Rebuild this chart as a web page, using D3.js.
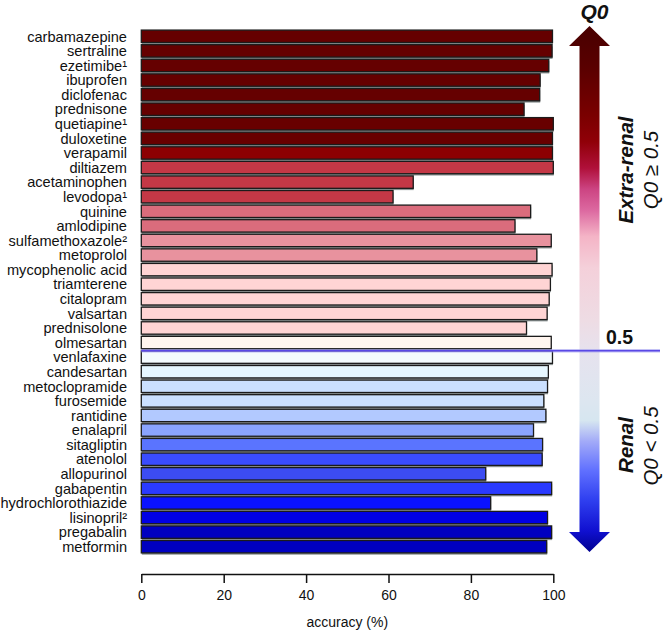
<!DOCTYPE html>
<html>
<head>
<meta charset="utf-8">
<script src="https://cdn.jsdelivr.net/npm/d3@7"></script>
<style>
  html, body { margin: 0; padding: 0; background: #fff; }
  svg { display: block; font-family: "Liberation Sans", Arial, Helvetica, sans-serif; }
</style>
</head>
<body>
<svg id="chart" width="667" height="632"></svg>
<script>
// ---- data ----
const drugs = [
  "carbamazepine", "sertraline", "ezetimibe\u00b9", "ibuprofen", "diclofenac", "prednisone",
  "quetiapine\u00b9", "duloxetine", "verapamil", "diltiazem", "acetaminophen", "levodopa\u00b9",
  "quinine", "amlodipine", "sulfamethoxazole\u00b2", "metoprolol", "mycophenolic acid", "triamterene",
  "citalopram", "valsartan", "prednisolone", "olmesartan", "venlafaxine", "candesartan",
  "metoclopramide", "furosemide", "rantidine", "enalapril", "sitagliptin", "atenolol",
  "allopurinol", "gabapentin", "hydrochlorothiazide", "lisinopril\u00b2", "pregabalin", "metformin"
];
const accuracy = [
  99.8, 99.7, 98.9, 96.8, 96.7, 92.9,
  100, 99.8, 99.8, 100, 66.0, 61.1,
  94.5, 90.7, 99.5, 96.0, 99.7, 99.3,
  99.0, 98.5, 93.5, 99.5, 99.8, 98.8,
  98.6, 97.7, 98.2, 95.2, 97.4, 97.3,
  83.6, 99.6, 84.8, 98.6, 99.6, 98.4
];
// palette for bars (Q0 shade of each drug, top to bottom)
const barColors = [
  "#650000", "#650000", "#650000", "#650000", "#650000", "#650000",
  "#680000", "#680000", "#8c0002", "#c43846", "#c43846", "#c43846",
  "#da6c7c", "#da6c7c", "#e8929e", "#e8929e", "#ffd4d4", "#ffd4d4",
  "#ffd4d4", "#ffd4d4", "#ffd4d4", "#fff5ef", "#f4fbfd", "#e6f7ff",
  "#cbe0ff", "#cbe0ff", "#b2c9ff", "#8aa4ff", "#5a74ff", "#3a4cff",
  "#3c4cf2", "#2a3aff", "#0a12ff", "#0000e4", "#0000c0", "#0000c0"
];
const xTicks = [0, 20, 40, 60, 80, 100];
const q0Threshold = 0.5;
const gradientStops = [
  [0.00, "#480000"], [0.08, "#5a0000"], [0.17, "#7a0000"], [0.22, "#900008"],
  [0.27, "#b0103a"], [0.31, "#cc4482"], [0.35, "#dc68a0"], [0.40, "#f4b4c6"],
  [0.46, "#f4d0da"], [0.56, "#eedce4"], [0.62, "#e6e2ee"], [0.71, "#dde6f0"],
  [0.75, "#d6e6f0"], [0.79, "#a2aaf8"], [0.845, "#6070ff"], [0.90, "#3040f0"],
  [0.96, "#1010d0"], [1.00, "#000090"]
];

// ---- layout ----
const svg = d3.select("#chart");
const x = d3.scaleLinear().domain([0, 100]).range([141.3, 553.3]);
const y = d3.scaleBand().domain(drugs).range([29, 554]).paddingInner(0.15).paddingOuter(0.075);

// shadows
svg.append("g").selectAll("rect").data(drugs).join("rect")
  .attr("x", x(0) + 0.5)
  .attr("y", d => y(d) + 1.8)
  .attr("width", (d, i) => x(accuracy[i]) - x(0))
  .attr("height", y.bandwidth())
  .attr("fill", "#8d9494");

// bars
svg.append("g").selectAll("rect").data(drugs).join("rect")
  .attr("x", x(0))
  .attr("y", d => y(d))
  .attr("width", (d, i) => x(accuracy[i]) - x(0))
  .attr("height", y.bandwidth())
  .attr("fill", (d, i) => barColors[i])
  .attr("stroke", "#1b1b1b")
  .attr("stroke-width", 1.3);

// labels
svg.append("g").selectAll("text").data(drugs).join("text")
  .attr("x", 127)
  .attr("y", d => y(d) + y.bandwidth() / 2)
  .attr("dy", "0.36em")
  .attr("text-anchor", "end")
  .attr("font-size", "14.6px")
  .attr("fill", "#111")
  .text(d => d);

// x axis
const axis = svg.append("g").attr("transform", "translate(0,574)")
  .call(d3.axisBottom(x).tickValues(xTicks).tickSize(9).tickSizeOuter(0).tickPadding(7));
axis.select(".domain").attr("stroke", "#111").attr("stroke-width", 1.5);
axis.selectAll(".tick line").attr("stroke", "#111").attr("stroke-width", 1.5);
axis.selectAll(".tick text").attr("font-size", "14px").attr("fill", "#111")
  .attr("font-family", "'Liberation Sans', Arial, sans-serif");

svg.append("text")
  .attr("x", (x(0) + x(100)) / 2)
  .attr("y", 627)
  .attr("text-anchor", "middle")
  .attr("font-size", "14px")
  .attr("fill", "#111")
  .text("accuracy (%)");

// ---- Q0 colour arrow ----
const q = d3.scaleLinear().domain([1, 0]).range([46, 532]);
const cx = 589.5, shaftHalf = 10, headHalf = 20.5, headLen = 20;
const defs = svg.append("defs");
const grad = defs.append("linearGradient").attr("id", "q0grad")
  .attr("gradientUnits", "userSpaceOnUse")
  .attr("x1", 0).attr("x2", 0)
  .attr("y1", q(1) - headLen).attr("y2", q(0) + headLen);
grad.selectAll("stop").data(gradientStops).join("stop")
  .attr("offset", d => d[0]).attr("stop-color", d => d[1]);

const yTopA = q(1), yBotA = q(0);
const arrow = d3.path();
arrow.moveTo(cx, yTopA - headLen);
arrow.lineTo(cx + headHalf, yTopA);
arrow.lineTo(cx + shaftHalf, yTopA);
arrow.lineTo(cx + shaftHalf, yBotA);
arrow.lineTo(cx + headHalf, yBotA);
arrow.lineTo(cx, yBotA + headLen);
arrow.lineTo(cx - headHalf, yBotA);
arrow.lineTo(cx - shaftHalf, yBotA);
arrow.lineTo(cx - shaftHalf, yTopA);
arrow.lineTo(cx - headHalf, yTopA);
arrow.closePath();
svg.append("path").attr("d", arrow.toString()).attr("fill", "url(#q0grad)");

// threshold line
const yThr = y("venlafaxine") - 0.2;
svg.append("line")
  .attr("x1", x(0)).attr("x2", 660)
  .attr("y1", yThr).attr("y2", yThr)
  .attr("stroke", "#9c98f0").attr("stroke-width", 3.5).attr("opacity", 0.6);
svg.append("line")
  .attr("x1", x(0)).attr("x2", 660)
  .attr("y1", yThr).attr("y2", yThr)
  .attr("stroke", "#5a48e6").attr("stroke-width", 1.6);

svg.append("text")
  .attr("x", 606).attr("y", 344)
  .attr("font-size", "19.5px").attr("font-weight", "bold").attr("fill", "#111")
  .text(String(q0Threshold));

svg.append("text")
  .attr("x", cx + 5).attr("y", 19)
  .attr("text-anchor", "middle")
  .attr("font-size", "21px").attr("font-weight", "bold").attr("font-style", "italic").attr("fill", "#111")
  .text("Q0");

function vtext(xp, yp, txt, bold) {
  svg.append("text")
    .attr("transform", `translate(${xp},${yp}) rotate(-90)`)
    .attr("text-anchor", "middle")
    .attr("font-size", "20.5px")
    .attr("font-style", "italic")
    .attr("font-weight", bold ? "bold" : "normal")
    .attr("fill", "#111")
    .text(txt);
}
vtext(633, 170, "Extra-renal", true);
vtext(658, 170, "Q0 \u2265 0.5", false);
vtext(633, 445, "Renal", true);
vtext(658, 446, "Q0 < 0.5", false);
</script>
</body>
</html>
